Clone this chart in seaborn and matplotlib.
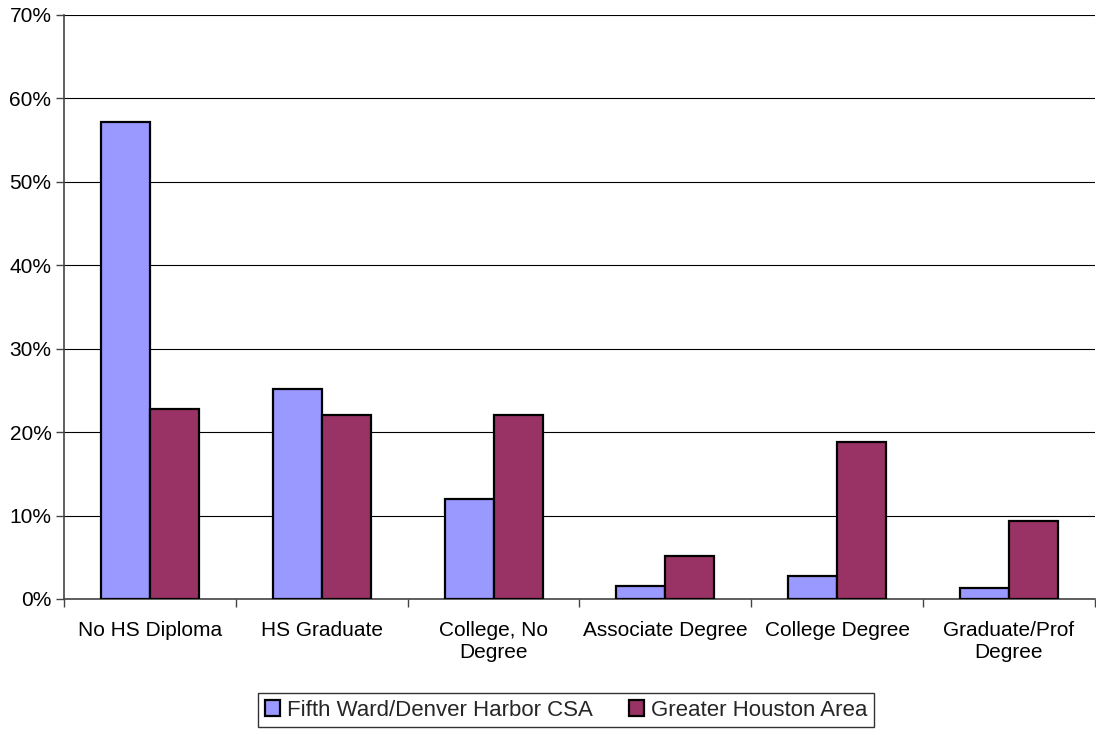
import matplotlib
matplotlib.use("Agg")
import matplotlib.pyplot as plt
from matplotlib.ticker import PercentFormatter, FixedLocator
import pandas as pd
import seaborn as sns

# education attainment categories
levels = ["No HS Diploma", "HS Graduate", "College, No\nDegree",
          "Associate Degree", "College Degree", "Graduate/Prof\nDegree"]
areas = ["Fifth Ward/Denver Harbor CSA", "Greater Houston Area"]
fifth_ward = [57.2, 25.2, 12.0, 1.5, 2.8, 1.3]
houston = [22.8, 22.0, 22.1, 5.1, 18.8, 9.3]

COLORS = {areas[0]: "#9999FF", areas[1]: "#993366"}

df = pd.DataFrame({
    "level": levels * 2,
    "pct": fifth_ward + houston,
    "area": [areas[0]] * len(levels) + [areas[1]] * len(levels),
})

sns.set_theme(style="white")
plt.rcParams["font.family"] = ["Liberation Sans", "DejaVu Sans"]

fig = plt.figure(figsize=(10.96, 7.35), dpi=100)
ax = fig.add_axes([64 / 1096, 1 - 599 / 735, 1 - 64 / 1096 - 0.001, (599 - 15) / 735])

sns.barplot(data=df, x="level", y="pct", hue="area", order=levels,
            hue_order=areas, palette=COLORS, saturation=1, width=0.57, gap=0,
            edgecolor="black", linewidth=1.6, ax=ax, zorder=3)

ax.set_ylim(0, 70)
ax.set_xlim(-0.5, 5.5)
ax.set_yticks(range(0, 71, 10))
ax.yaxis.set_major_formatter(PercentFormatter(xmax=100, decimals=0))
ax.yaxis.grid(True, color="black", linewidth=0.8)
ax.set_axisbelow(True)
ax.set_xlabel("")
ax.set_ylabel("")

# category boundary ticks
ax.xaxis.set_minor_locator(FixedLocator([i + 0.5 for i in range(-1, 6)]))
ax.tick_params(axis="x", which="major", length=0, pad=16, labelsize=15,
               colors="black")
ax.tick_params(axis="x", which="minor", length=6, width=1, color="#444444",
               bottom=True)
ax.tick_params(axis="y", which="major", left=True, length=6, width=1,
               color="#444444", labelsize=15, pad=3, labelcolor="black")

for side in ["top", "right"]:
    ax.spines[side].set_visible(False)
for side in ["left", "bottom"]:
    ax.spines[side].set_color("#444444")
    ax.spines[side].set_linewidth(1.2)

handles, labels = ax.get_legend_handles_labels()
ax.legend_.remove()
leg = fig.legend(handles, labels, loc="upper center",
                 bbox_to_anchor=(566 / 1096, 1 - 693 / 735), ncol=2,
                 fontsize=16, frameon=True, fancybox=False, edgecolor="black",
                 handlelength=0.7, handleheight=0.7, handletextpad=0.3,
                 columnspacing=1.6, borderpad=0.3, borderaxespad=0)
leg.get_frame().set_linewidth(1.0)

fig.savefig("out.png", dpi=100)
